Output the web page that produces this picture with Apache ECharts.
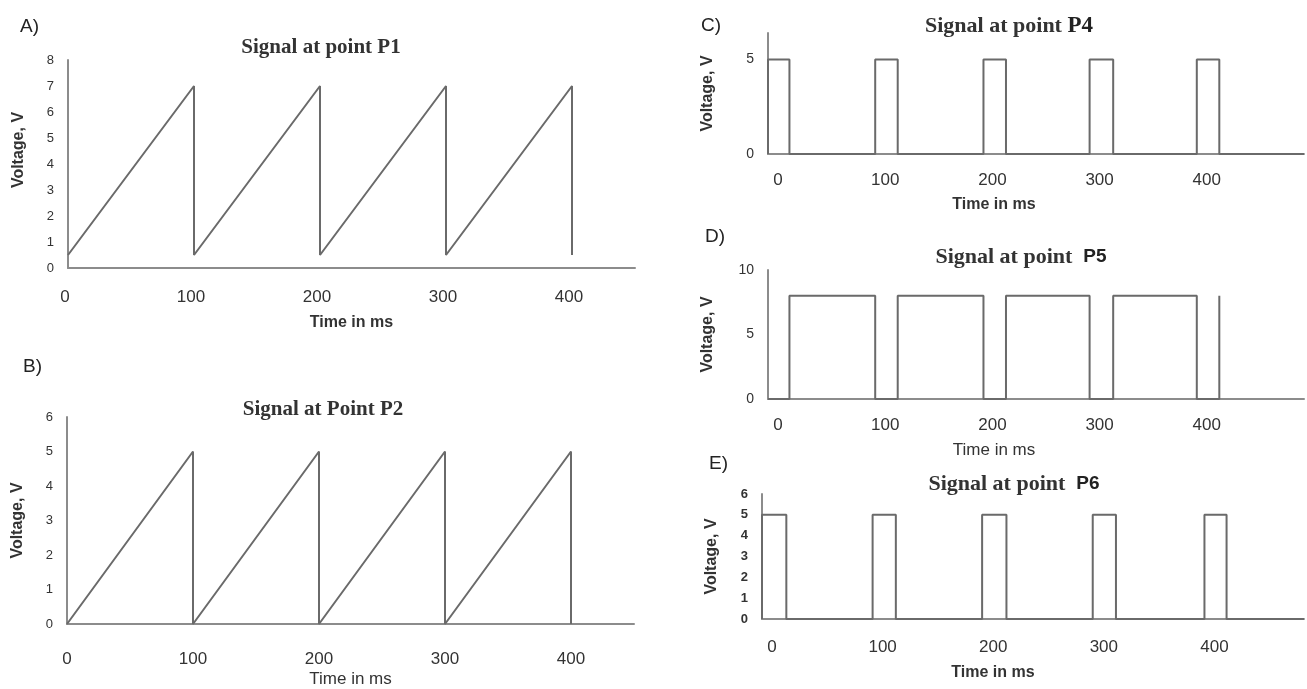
<!DOCTYPE html>
<html><head><meta charset="utf-8">
<script src="https://cdn.jsdelivr.net/npm/echarts@6/dist/echarts.min.js"></script>
<style>html,body{margin:0;padding:0;background:#fff}#c{width:1307px;height:689px}</style>
</head><body><div id="c"></div>
<script>
// ---- data ----
const xTickLabels = [0, 100, 200, 300, 400];
const p1Time = [0, 100, 100, 200, 200, 300, 300, 400, 400];
const p1Volt = [0.5, 7, 0.5, 7, 0.5, 7, 0.5, 7, 0.5];
const p2Time = [0, 100, 100, 200, 200, 300, 300, 400, 400];
const p2Volt = [0, 5, 0, 5, 0, 5, 0, 5, 0];
const p4Time = [0, 0, 20, 20, 100, 100, 121, 121, 201, 201, 222, 222, 300, 300, 322, 322, 400, 400, 421, 421, 500];
const p4Volt = [0, 5, 5, 0, 0, 5, 5, 0, 0, 5, 5, 0, 0, 5, 5, 0, 0, 5, 5, 0, 0];
const p5Time = [0, 20, 20, 100, 100, 121, 121, 201, 201, 222, 222, 300, 300, 322, 322, 400, 400, 421, 421];
const p5Volt = [0, 0, 8, 8, 0, 0, 8, 8, 0, 0, 8, 8, 0, 0, 8, 8, 0, 0, 8];
const p6Time = [0, 0, 22, 22, 100, 100, 121, 121, 199, 199, 221, 221, 299, 299, 320, 320, 400, 400, 420, 420, 490];
const p6Volt = [0, 5, 5, 0, 0, 5, 5, 0, 0, 5, 5, 0, 0, 5, 5, 0, 0, 5, 5, 0, 0];
const yTicksA = [0, 1, 2, 3, 4, 5, 6, 7, 8];
const yTicksB = [0, 1, 2, 3, 4, 5, 6];
const yTicksC = [0, 5];
const yTicksD = [0, 5, 10];
const yTicksE = [0, 1, 2, 3, 4, 5, 6];

const pairs = (t, v) => t.map((x, i) => [x, v[i]]);

const serif = '"Liberation Serif", "Times New Roman", serif';
const sans = '"Liberation Sans", Arial, sans-serif';
const LINE = '#6a6a6a', AXIS = '#8c8c8c', TXT = '#333';

function xAx(gi, max, margin, nameGap, nameBold, nameSize, labelPad, namePad) {
  return {
    type: 'value', gridIndex: gi, min: 0, max: max, interval: 100,
    axisLine: { show: true, lineStyle: { color: AXIS, width: 2 } },
    axisTick: { show: false }, splitLine: { show: false },
    axisLabel: {
      margin: margin, fontFamily: sans, fontSize: 17, color: TXT, padding: labelPad,
      showMaxLabel: true,
      formatter: v => xTickLabels.indexOf(v) >= 0 ? String(v) : ''
    },
    name: 'Time in ms', nameLocation: 'middle', nameGap: nameGap,
    nameTextStyle: { fontFamily: sans, fontSize: nameSize, fontWeight: nameBold ? 'bold' : 'normal', color: TXT, padding: namePad }
  };
}
function yAx(gi, max, interval, ticks, fontSize, nameGap, namePad, bold) {
  return {
    type: 'value', gridIndex: gi, min: 0, max: max, interval: interval,
    axisLine: { show: true, lineStyle: { color: AXIS, width: 2 } },
    axisTick: { show: false }, splitLine: { show: false },
    axisLabel: {
      margin: 14, fontFamily: sans, fontSize: fontSize, color: TXT, fontWeight: bold ? 'bold' : 'normal',
      formatter: v => ticks.indexOf(v) >= 0 ? String(v) : ''
    },
    name: 'Voltage, V', nameLocation: 'middle', nameGap: nameGap,
    nameTextStyle: { fontFamily: sans, fontSize: 16, fontWeight: 'bold', color: TXT, padding: namePad }
  };
}
function ser(gi, t, v) {
  return {
    type: 'line', xAxisIndex: gi, yAxisIndex: gi, data: pairs(t, v),
    showSymbol: false, symbol: 'none', lineStyle: { color: LINE, width: 2 }, silent: true
  };
}
const panelStyle = { fontFamily: sans, fontSize: 19, fontWeight: 'normal', color: '#222' };
const titleRichL = {
  a: { fontFamily: serif, fontWeight: 'bold', fontSize: 21, color: TXT }
};
const titleRich = {
  a: { fontFamily: serif, fontWeight: 'bold', fontSize: 22, color: TXT },
  s: { fontFamily: serif, fontWeight: 'bold', fontSize: 23, color: '#222' },
  b: { fontFamily: sans, fontWeight: 'bold', fontSize: 19, color: '#222' }
};

const option = {
  animation: false,
  backgroundColor: '#fff',
  title: [
    { text: 'A)', left: 15, top: 12, textStyle: panelStyle },
    { text: 'B)', left: 18, top: 352, textStyle: panelStyle },
    { text: 'C)', left: 696, top: 11, textStyle: panelStyle },
    { text: 'D)', left: 700, top: 222, textStyle: panelStyle },
    { text: 'E)', left: 704, top: 449, textStyle: panelStyle },
    { text: '{a|Signal at point P1}', left: 316, top: 32, textAlign: 'center', textStyle: { rich: titleRichL } },
    { text: '{a|Signal at Point P2}', left: 318, top: 394, textAlign: 'center', textStyle: { rich: titleRichL } },
    { text: '{a|Signal at point }{s|P4}', left: 1004, top: 10, textAlign: 'center', textStyle: { rich: titleRich } },
    { text: '{a|Signal at point  }{b|P5}', left: 1016, top: 241, textAlign: 'center', textStyle: { rich: titleRich } },
    { text: '{a|Signal at point  }{b|P6}', left: 1009, top: 468, textAlign: 'center', textStyle: { rich: titleRich } }
  ],
  grid: [
    { left: 68, top: 60, width: 567, height: 208 },
    { left: 67, top: 417, width: 567, height: 208 },
    { left: 768, top: 33, width: 542, height: 121 },
    { left: 768, top: 270, width: 542, height: 129 },
    { left: 762, top: 494, width: 544, height: 125 }
  ],
  xAxis: [
    xAx(0, 450, 21, 47, true, 16, [0, 6, 0, 0], [0, 0, 0, 0]),
    xAx(1, 450, 27, 47, false, 17, [0, 0, 0, 0], [0, 0, 0, 0]),
    xAx(2, 500, 18, 43, true, 16, [0, 0, 0, 20], [0, 84, 0, 0]),
    xAx(3, 500, 18, 43, false, 17, [0, 0, 0, 20], [0, 84, 0, 0]),
    xAx(4, 490, 20, 46, true, 16, [0, 0, 0, 20], [0, 80, 0, 0])
  ],
  yAxis: [
    yAx(0, 8, 1, yTicksA, 13, 41, [0, 0, 0, 28], false),
    yAx(1, 6, 1, yTicksB, 13, 41, [0, 0, 0, 0], false),
    yAx(2, 6.4, 5, yTicksC, 14, 52, [0, 0, 0, 0], false),
    yAx(3, 10, 5, yTicksD, 14, 52, [0, 0, 0, 0], false),
    yAx(4, 6, 1, yTicksE, 13, 42, [0, 0, 0, 0], true)
  ],
  series: [
    ser(0, p1Time, p1Volt),
    ser(1, p2Time, p2Volt),
    ser(2, p4Time, p4Volt),
    ser(3, p5Time, p5Volt),
    ser(4, p6Time, p6Volt)
  ]
};
const chart = echarts.init(document.getElementById('c'));
chart.setOption(option);
</script>
</body></html>
